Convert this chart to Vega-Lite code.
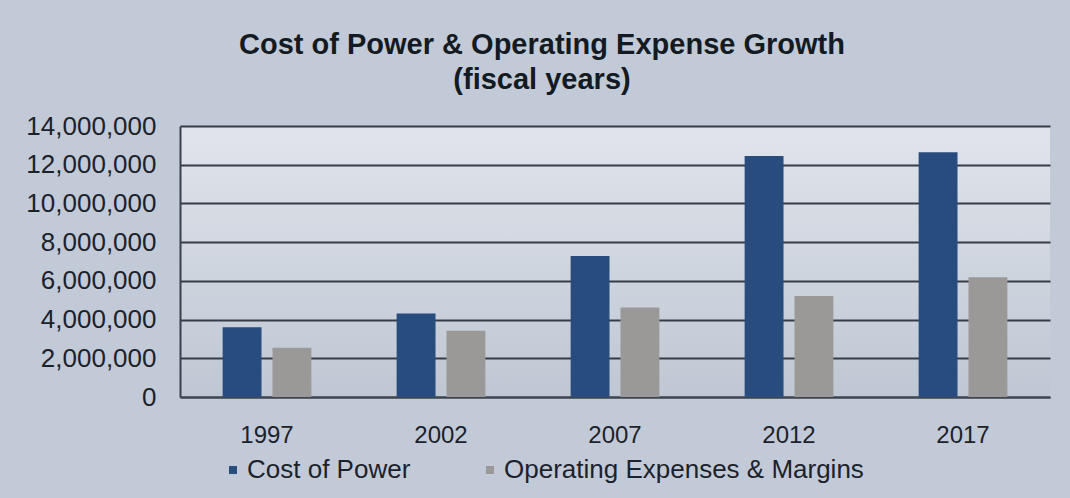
{
  "$schema": "https://vega.github.io/schema/vega-lite/v6.json",
  "width": 870,
  "height": 271,
  "autosize": "none",
  "padding": {"left": 180, "top": 126, "right": 20, "bottom": 101},
  "background": "#c2cad7",
  "title": {
    "text": ["Cost of Power & Operating Expense Growth", "(fiscal years)"],
    "font": "Liberation Sans",
    "fontSize": 29,
    "fontWeight": "bold",
    "color": "#141a22",
    "lineHeight": 35,
    "anchor": "middle",
    "dx": -73,
    "offset": 18
  },
  "config": {
    "view": {
      "stroke": null,
      "fill": {
        "gradient": "linear",
        "x1": 0, "y1": 0, "x2": 0, "y2": 1,
        "stops": [
          {"offset": 0, "color": "#e1e4eb"},
          {"offset": 1, "color": "#bec7d3"}
        ]
      }
    },
    "font": "Liberation Sans"
  },
  "data": {
    "values": [
      {"year": "1997", "series": "Cost of Power", "value": 3600000},
      {"year": "1997", "series": "Operating Expenses & Margins", "value": 2550000},
      {"year": "2002", "series": "Cost of Power", "value": 4320000},
      {"year": "2002", "series": "Operating Expenses & Margins", "value": 3420000},
      {"year": "2007", "series": "Cost of Power", "value": 7280000},
      {"year": "2007", "series": "Operating Expenses & Margins", "value": 4620000},
      {"year": "2012", "series": "Cost of Power", "value": 12450000},
      {"year": "2012", "series": "Operating Expenses & Margins", "value": 5220000},
      {"year": "2017", "series": "Cost of Power", "value": 12650000},
      {"year": "2017", "series": "Operating Expenses & Margins", "value": 6180000}
    ]
  },
  "mark": {"type": "bar"},
  "encoding": {
    "x": {
      "field": "year",
      "type": "nominal",
      "sort": null,
      "scale": {"paddingInner": 0.49, "paddingOuter": 0.245},
      "axis": {
        "title": null,
        "labelAngle": 0,
        "labelFontSize": 24,
        "labelColor": "#1c222c",
        "labelPadding": 26,
        "ticks": false,
        "domainColor": "#3f4652",
        "domainWidth": 2
      }
    },
    "xOffset": {
      "field": "series",
      "type": "nominal",
      "sort": ["Cost of Power", "Operating Expenses & Margins"],
      "scale": {"paddingInner": 0.22, "paddingOuter": 0}
    },
    "y": {
      "field": "value",
      "type": "quantitative",
      "scale": {"domain": [0, 14000000], "nice": false},
      "axis": {
        "title": null,
        "values": [0, 2000000, 4000000, 6000000, 8000000, 10000000, 12000000, 14000000],
        "format": ",d",
        "labelFontSize": 26,
        "labelColor": "#1c222c",
        "labelPadding": 24,
        "ticks": false,
        "domainColor": "#3a414c",
        "domainWidth": 2,
        "grid": true,
        "gridColor": "#353c47",
        "gridWidth": 2
      }
    },
    "color": {
      "field": "series",
      "type": "nominal",
      "sort": ["Cost of Power", "Operating Expenses & Margins"],
      "scale": {"domain": ["Cost of Power", "Operating Expenses & Margins"], "range": ["#284c7e", "#9a9998"]},
      "legend": {
        "title": null,
        "orient": "none",
        "legendX": 40,
        "legendY": 331,
        "direction": "horizontal",
        "symbolType": "square",
        "symbolSize": 64,
        "symbolStrokeWidth": 0,
        "labelFontSize": 26,
        "labelLimit": 0,
        "labelColor": "#1c222c",
        "labelOffset": 1,
        "columnPadding": 66
      }
    }
  }
}
